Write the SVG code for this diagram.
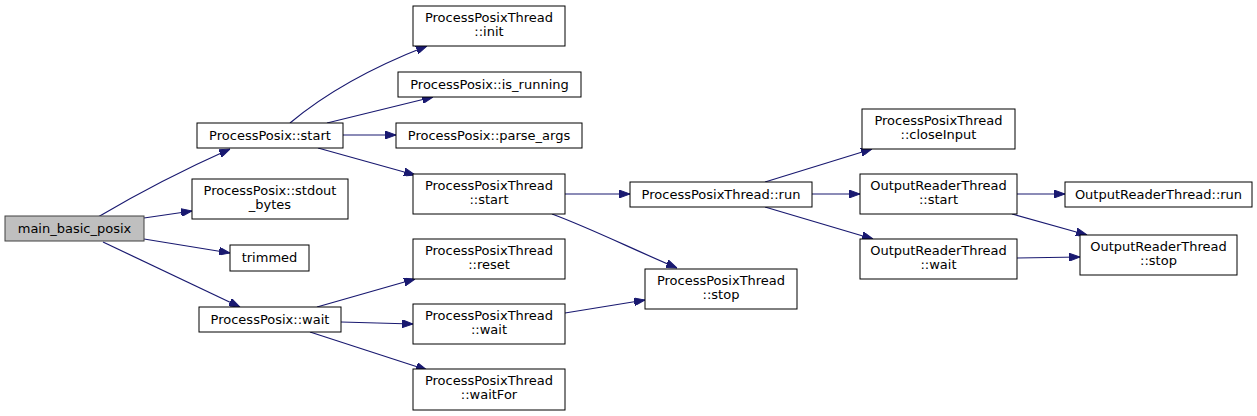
<svg xmlns="http://www.w3.org/2000/svg" width="1257" height="416" viewBox="0 0 1257 416">
<defs>
<style>
.n rect{fill:#ffffff;stroke:#000000;stroke-width:1}
.n.root rect{fill:#bfbfbf;stroke:#404040}
.n text{font-family:"DejaVu Sans","Liberation Sans",sans-serif;font-size:13px;fill:#000000;text-anchor:middle}
#edges path{fill:none;stroke:#191970;stroke-width:1.2;marker-end:url(#arr)}
</style>
<marker id="arr" markerUnits="userSpaceOnUse" viewBox="0 0 11 8" refX="11" refY="4" markerWidth="11" markerHeight="8" orient="auto">
<path d="M0,0 L11,4 L0,8 z" fill="#191970" stroke="#191970" stroke-width="1"/>
</marker>
</defs>
<rect width="1257" height="416" fill="#ffffff"/>
<g id="edges">
<path d="M98,217 C125,201 165,178 230,149"/>
<path d="M144,218 L192,211"/>
<path d="M144,239 L230,253"/>
<path d="M103,242 L240,307"/>
<path d="M290,123 C315,102 355,74 427,46"/>
<path d="M327,123 L433,97"/>
<path d="M343,135 L396,135"/>
<path d="M318,148 L415,175"/>
<path d="M317,307 L415,279"/>
<path d="M341,322 L413,324"/>
<path d="M310,332 L427,370"/>
<path d="M565,194 L630,194"/>
<path d="M552,214 C590,228 630,248 677,268"/>
<path d="M565,313 L645,300"/>
<path d="M765,182 L872,149"/>
<path d="M812,194 L860,194"/>
<path d="M765,207 L873,239"/>
<path d="M1017,194 L1065,194"/>
<path d="M1012,214 L1087,235"/>
<path d="M1017,258 L1080,257"/>
</g>
<g id="main_basic_posix" class="n root"><rect x="5" y="216" width="139" height="25"/><text x="74.5" y="233">main_basic_posix</text></g>
<g id="pp_start" class="n"><rect x="197" y="123" width="146" height="25"/><text x="270" y="140">ProcessPosix::start</text></g>
<g id="pp_stdout_bytes" class="n"><rect x="192" y="179" width="156" height="40"/><text x="270" y="195">ProcessPosix::stdout</text><text x="270" y="209">_bytes</text></g>
<g id="trimmed" class="n"><rect x="230" y="245" width="79" height="26"/><text x="269.5" y="262">trimmed</text></g>
<g id="pp_wait" class="n"><rect x="199" y="307" width="142" height="25"/><text x="270" y="324">ProcessPosix::wait</text></g>
<g id="ppt_init" class="n"><rect x="413" y="6" width="152" height="40"/><text x="489" y="22">ProcessPosixThread</text><text x="489" y="36">::init</text></g>
<g id="pp_is_running" class="n"><rect x="398" y="72" width="183" height="25"/><text x="489.5" y="89">ProcessPosix::is_running</text></g>
<g id="pp_parse_args" class="n"><rect x="396" y="123" width="186" height="25"/><text x="489" y="140">ProcessPosix::parse_args</text></g>
<g id="ppt_start" class="n"><rect x="413" y="174" width="152" height="40"/><text x="489" y="190">ProcessPosixThread</text><text x="489" y="204">::start</text></g>
<g id="ppt_reset" class="n"><rect x="413" y="239" width="152" height="40"/><text x="489" y="255">ProcessPosixThread</text><text x="489" y="269">::reset</text></g>
<g id="ppt_wait" class="n"><rect x="413" y="304" width="152" height="40"/><text x="489" y="320">ProcessPosixThread</text><text x="489" y="334">::wait</text></g>
<g id="ppt_waitFor" class="n"><rect x="413" y="369" width="152" height="41"/><text x="489" y="385">ProcessPosixThread</text><text x="489" y="399">::waitFor</text></g>
<g id="ppt_run" class="n"><rect x="630" y="182" width="182" height="25"/><text x="721" y="199">ProcessPosixThread::run</text></g>
<g id="ppt_stop" class="n"><rect x="645" y="269" width="152" height="40"/><text x="721" y="285">ProcessPosixThread</text><text x="721" y="299">::stop</text></g>
<g id="ppt_closeInput" class="n"><rect x="862" y="109" width="153" height="40"/><text x="938.5" y="125">ProcessPosixThread</text><text x="938.5" y="139">::closeInput</text></g>
<g id="ort_start" class="n"><rect x="860" y="174" width="157" height="40"/><text x="938.5" y="190">OutputReaderThread</text><text x="938.5" y="204">::start</text></g>
<g id="ort_wait" class="n"><rect x="860" y="239" width="157" height="40"/><text x="938.5" y="255">OutputReaderThread</text><text x="938.5" y="269">::wait</text></g>
<g id="ort_run" class="n"><rect x="1065" y="182" width="187" height="25"/><text x="1158.5" y="199">OutputReaderThread::run</text></g>
<g id="ort_stop" class="n"><rect x="1080" y="235" width="157" height="40"/><text x="1158.5" y="251">OutputReaderThread</text><text x="1158.5" y="265">::stop</text></g>
</svg>
